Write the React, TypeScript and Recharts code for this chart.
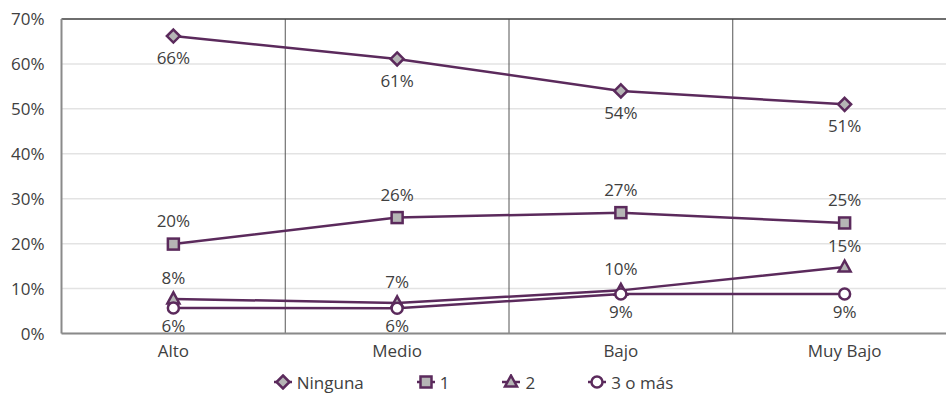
import React from 'react';
import { LineChart, Line, XAxis, YAxis, CartesianGrid, Legend, LabelList, ReferenceLine } from 'recharts';

const categories = ['Alto', 'Medio', 'Bajo', 'Muy Bajo'];
const ninguna = [66.2, 61.1, 54.0, 51.0];
const uno = [19.9, 25.8, 26.9, 24.6];
const dos = [7.7, 6.8, 9.6, 14.8];
const tresOMas = [5.7, 5.6, 8.8, 8.8];
const yTicks = [0, 10, 20, 30, 40, 50, 60, 70];

const data = categories.map((c, i) => ({
  cat: c,
  ninguna: ninguna[i],
  uno: uno[i],
  dos: dos[i],
  tres: tresOMas[i],
}));

const PURPLE = '#5b2a5c';
const GRAYFILL = '#b5b5b5';
const TEXT = '#404040';
const FONT = '"Open Sans", sans-serif';

const Diamond = ({ cx, cy }: any) => (
  <polygon points={`${cx},${cy - 6.5} ${cx + 6.5},${cy} ${cx},${cy + 6.5} ${cx - 6.5},${cy}`} fill={GRAYFILL} stroke={PURPLE} strokeWidth={2.5} />
);
const Square = ({ cx, cy }: any) => (
  <rect x={cx - 5.5} y={cy - 5.5} width={11} height={11} fill={GRAYFILL} stroke={PURPLE} strokeWidth={2.5} />
);
const Triangle = ({ cx, cy }: any) => (
  <polygon points={`${cx},${cy - 6.5} ${cx + 6},${cy + 4.5} ${cx - 6},${cy + 4.5}`} fill={GRAYFILL} stroke={PURPLE} strokeWidth={2.5} strokeLinejoin="miter" />
);
const Circle = ({ cx, cy }: any) => (
  <circle cx={cx} cy={cy} r={5.5} fill="#ffffff" stroke={PURPLE} strokeWidth={2.5} />
);

const makeDot = (Shape: any, name: string) => (props: any) => (
  <Shape key={`${name}-${props.index}`} cx={props.cx} cy={props.cy} />
);

const legendItems = [
  { name: 'Ninguna', Shape: Diamond },
  { name: '1', Shape: Square },
  { name: '2', Shape: Triangle },
  { name: '3 o más', Shape: Circle },
];

const renderLegend = () => (
  <div style={{ width: 946, height: 30, display: 'flex', justifyContent: 'center', alignItems: 'center', gap: 52, fontFamily: FONT, fontSize: 17, color: TEXT }}>
    {legendItems.map((it) => (
      <div key={it.name} style={{ display: 'flex', alignItems: 'center', gap: 4 }}>
        <svg width={20} height={16}>
          <line x1={1} y1={8} x2={19} y2={8} stroke={PURPLE} strokeWidth={2.5} />
          <it.Shape cx={10} cy={8} />
        </svg>
        <span>{it.name}</span>
      </div>
    ))}
  </div>
);

const fmt = (v: any) => `${Math.round(Number(v))}%`;
const labelStyle = { fill: TEXT, fontSize: 17, fontFamily: FONT };

export default function App() {
  return (
    <div style={{ position: 'absolute', left: 0, top: 0, width: 946, height: 407, overflow: 'hidden', background: '#fff' }}>
      <LineChart width={980} height={407} data={data} margin={{ top: 19, right: 23.5, left: 0, bottom: 0 }}>
        <CartesianGrid vertical={false} stroke="#e3e3e3" strokeWidth={1.5} />
        <CartesianGrid
          horizontal={false}
          stroke="#555555"
          strokeWidth={1}
          verticalCoordinatesGenerator={({ offset }: any) => [1, 2, 3].map((i) => offset.left + (i * offset.width) / 4)}
        />
        <ReferenceLine y={70} stroke="#444444" strokeWidth={1.5} />
        <XAxis
          dataKey="cat"
          scale="band"
          height={33.5}
          tickLine={false}
          tickSize={0}
          tickMargin={11}
          axisLine={{ stroke: '#8a8a8a', strokeWidth: 2 }}
          tick={{ fill: TEXT, fontSize: 17, fontFamily: FONT }}
        />
        <YAxis
          width={61.5}
          domain={[0, 70]}
          ticks={yTicks}
          tickFormatter={(v: any) => `${v}%`}
          tickLine={false}
          tickSize={0}
          tickMargin={17}
          axisLine={{ stroke: '#8a8a8a', strokeWidth: 2 }}
          tick={{ fill: TEXT, fontSize: 17, fontFamily: FONT }}
        />
        <Legend verticalAlign="bottom" height={40} content={renderLegend} wrapperStyle={{ left: 0, width: 946 }} />
        <Line type="linear" dataKey="ninguna" name="Ninguna" stroke={PURPLE} strokeWidth={2.5} isAnimationActive={false} dot={makeDot(Diamond, 'n')} activeDot={false}>
          <LabelList dataKey="ninguna" position="bottom" offset={16} formatter={fmt} style={labelStyle} />
        </Line>
        <Line type="linear" dataKey="uno" name="1" stroke={PURPLE} strokeWidth={2.5} isAnimationActive={false} dot={makeDot(Square, 'u')} activeDot={false}>
          <LabelList dataKey="uno" position="top" offset={17} formatter={fmt} style={labelStyle} />
        </Line>
        <Line type="linear" dataKey="dos" name="2" stroke={PURPLE} strokeWidth={2.5} isAnimationActive={false} dot={makeDot(Triangle, 'd')} activeDot={false}>
          <LabelList dataKey="dos" position="top" offset={15} formatter={fmt} style={labelStyle} />
        </Line>
        <Line type="linear" dataKey="tres" name="3 o más" stroke={PURPLE} strokeWidth={2.5} isAnimationActive={false} dot={makeDot(Circle, 't')} activeDot={false}>
          <LabelList dataKey="tres" position="bottom" offset={12} formatter={fmt} style={labelStyle} />
        </Line>
      </LineChart>
    </div>
  );
}
